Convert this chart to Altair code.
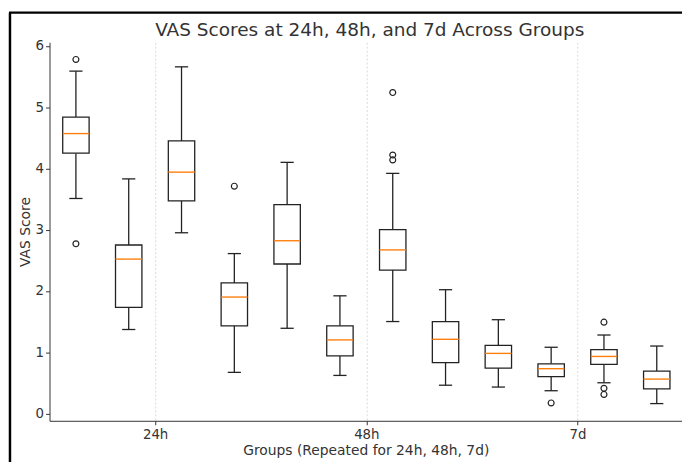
import altair as alt
import pandas as pd

# Box statistics (positions 1..12)
positions = [1, 2, 3, 4, 5, 6, 7, 8, 9, 10, 11, 12]
whisker_low = [3.51, 1.37, 2.95, 0.67, 1.39, 0.62, 1.50, 0.46, 0.43, 0.37, 0.50, 0.16]
q1 = [4.25, 1.73, 3.47, 1.43, 2.44, 0.94, 2.34, 0.83, 0.74, 0.60, 0.80, 0.40]
median = [4.57, 2.52, 3.94, 1.90, 2.82, 1.20, 2.67, 1.21, 0.98, 0.73, 0.93, 0.56]
q3 = [4.84, 2.75, 4.45, 2.13, 3.41, 1.43, 3.00, 1.50, 1.11, 0.81, 1.04, 0.69]
whisker_high = [5.59, 3.83, 5.66, 2.61, 4.10, 1.92, 3.92, 2.02, 1.53, 1.08, 1.28, 1.10]

flier_pos = [1, 1, 4, 7, 7, 7, 10, 11, 11, 11]
flier_val = [5.78, 2.77, 3.71, 5.24, 4.22, 4.14, 0.17, 1.49, 0.41, 0.31]

tick_positions = [2.5, 6.5, 10.5]
tick_labels = ["24h", "48h", "7d"]
title_text = "VAS Scores at 24h, 48h, and 7d Across Groups"

df = pd.DataFrame({
    "pos": positions, "lo": whisker_low, "q1": q1, "med": median,
    "q3": q3, "hi": whisker_high,
})
fl = pd.DataFrame({"pos": flier_pos, "val": flier_val})

W, H = 640, 383
INK = "#222222"

xscale = alt.Scale(domain=[0.5, 12.478], nice=False, zero=False)
yscale = alt.Scale(domain=[-0.121, 6.061], nice=False, zero=False)

label_expr = "datum.value == 2.5 ? '24h' : datum.value == 6.5 ? '48h' : '7d'"
xaxis = alt.Axis(values=tick_positions, labelExpr=label_expr, grid=True,
                 gridDash=[2, 2], gridColor="#cfcfcf", gridWidth=0.8,
                 title="Groups (Repeated for 24h, 48h, 7d)", titlePadding=3,
                 labelPadding=3)
yaxis = alt.Axis(values=[0, 1, 2, 3, 4, 5, 6], format="d", grid=False,
                 title="VAS Score", titlePadding=3, labelPadding=2)


def X(field):
    return alt.X(field, type="quantitative", scale=xscale, axis=xaxis, title="Groups (Repeated for 24h, 48h, 7d)")


def Y(field):
    return alt.Y(field, type="quantitative", scale=yscale, axis=yaxis, title="VAS Score")


base = alt.Chart(df).transform_calculate(
    bl="datum.pos - 0.25", br="datum.pos + 0.25",
    cl="datum.pos - 0.125", cr="datum.pos + 0.125",
)

whisk_hi = base.mark_rule(color=INK, strokeWidth=1.3).encode(x=X("pos"), y=Y("q3"), y2="hi:Q")
whisk_lo = base.mark_rule(color=INK, strokeWidth=1.3).encode(x=X("pos"), y=Y("lo"), y2="q1:Q")
boxes = base.mark_rect(fill="white", stroke=INK, strokeWidth=1.3).encode(
    x=X("bl"), x2="br:Q", y=Y("q1"), y2="q3:Q")
cap_hi = base.mark_rule(color=INK, strokeWidth=1.3).encode(x=X("cl"), x2="cr:Q", y=Y("hi"))
cap_lo = base.mark_rule(color=INK, strokeWidth=1.3).encode(x=X("cl"), x2="cr:Q", y=Y("lo"))
meds = base.mark_rule(color="#ff7f0e", strokeWidth=1.4).encode(x=X("bl"), x2="br:Q", y=Y("med"))
fliers = alt.Chart(fl).mark_point(shape="circle", filled=False, color=INK, size=36,
                                  strokeWidth=1.2, opacity=1).encode(x=X("pos"), y=Y("val"))

title_df = pd.DataFrame({"t": [title_text]})
title_mark = alt.Chart(title_df).mark_text(
    font="DejaVu Sans", fontSize=18.7, color="#333333", align="center", baseline="alphabetic"
).encode(text="t:N", x=alt.value(W / 2 + 4), y=alt.value(-6))

frame_df = pd.DataFrame({"a": [0]})
frame_left = alt.Chart(frame_df).mark_rule(color="black", strokeWidth=2.5).encode(
    x=alt.value(-40), y=alt.value(-30), y2=alt.value(H + 60))
frame_top = alt.Chart(frame_df).mark_rule(color="black", strokeWidth=2.5).encode(
    x=alt.value(-41), x2=alt.value(W + 20), y=alt.value(-30))

chart = alt.layer(whisk_hi, whisk_lo, boxes, cap_hi, cap_lo, meds, fliers,
                  title_mark, frame_left, frame_top).properties(
    width=W, height=H,
    autosize=alt.AutoSizeParams(type="none"),
    padding={"left": 42, "top": 32, "right": 0, "bottom": 39},
).configure(background="white").configure_view(stroke=None).configure_axis(
    domainColor="#333333", domainWidth=1, tickColor="#333333", tickSize=4, tickWidth=1,
    labelFont="DejaVu Sans", labelFontSize=13.5, labelColor="#333333",
    titleFont="DejaVu Sans", titleFontSize=14, titleColor="#333333", titleFontWeight="normal",
)

chart.save("out.html", embed_options={"renderer": "svg", "actions": False})
